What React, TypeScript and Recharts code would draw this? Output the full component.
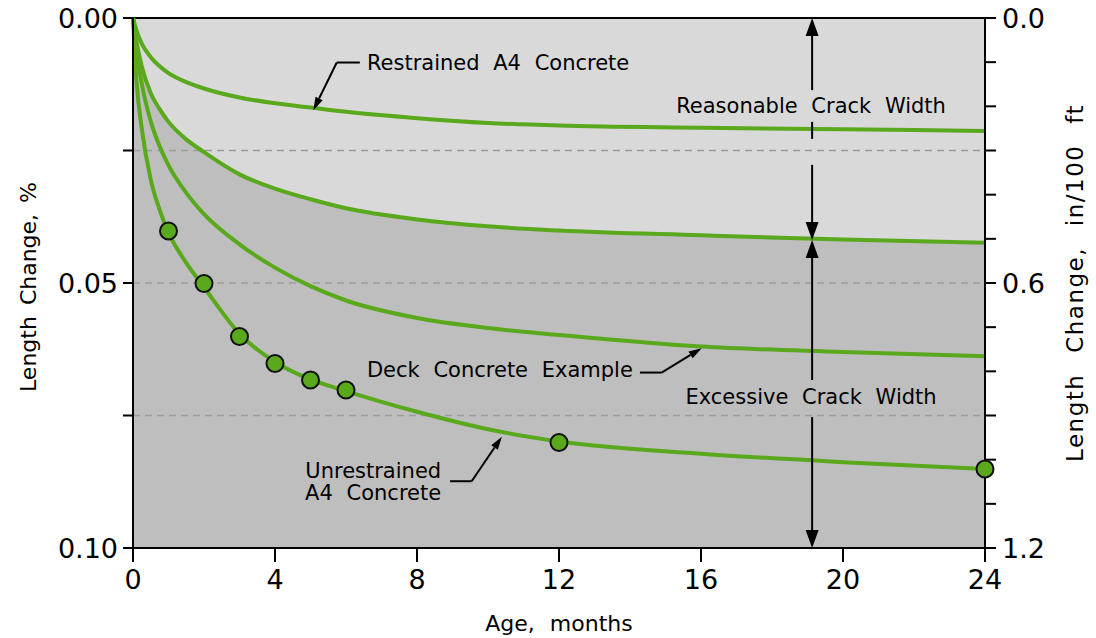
import React from 'react';
import {
  ComposedChart, XAxis, YAxis, Line, Area, Scatter,
  ReferenceArea, ReferenceLine, ReferenceDot,
} from 'recharts';

// age in months and length change in %
const months = [0, 0.1, 0.25, 0.5, 0.75, 1, 1.5, 2, 3, 4, 5, 6, 8, 10, 12, 16, 20, 24];
const restrained = [0, 0.0024, 0.0049, 0.0074, 0.0091, 0.0104, 0.0121, 0.0133, 0.015, 0.0161, 0.0169, 0.0177, 0.0189, 0.0198, 0.0203, 0.0207, 0.021, 0.0213];
const crackLimit = [0, 0.0045, 0.0092, 0.0142, 0.0172, 0.0196, 0.0229, 0.0253, 0.0295, 0.0322, 0.0342, 0.0359, 0.038, 0.0393, 0.0401, 0.041, 0.0418, 0.0424];
const deck = [0, 0.006, 0.0125, 0.0195, 0.0242, 0.0278, 0.033, 0.037, 0.0427, 0.0471, 0.0506, 0.0533, 0.0566, 0.0585, 0.0598, 0.062, 0.063, 0.0638];
const unrestrained = [0, 0.012, 0.021, 0.0305, 0.0362, 0.0405, 0.0462, 0.0508, 0.0596, 0.0649, 0.0682, 0.0704, 0.0743, 0.0776, 0.0799, 0.0822, 0.0838, 0.0851];

// measured points on the unrestrained curve
const testMonths = [1, 2, 3, 4, 5, 6, 12, 24];
const testValues = [0.0402, 0.0501, 0.0601, 0.0652, 0.0683, 0.0702, 0.0801, 0.0851];

const xTicks = [0, 4, 8, 12, 16, 20, 24];
const leftTicks = [0, 0.025, 0.05, 0.075, 0.1];
const leftLabels = ['0.00', '', '0.05', '', '0.10'];
const rightTicks = [0, 0.1, 0.2, 0.3, 0.4, 0.5, 0.6, 0.7, 0.8, 0.9, 1.0, 1.1, 1.2];
const rightLabelled = [0, 0.6, 1.2];
const dashedLevels = [0.025, 0.05, 0.075];
// 0.1 % of 100 ft = 1.2 in
const IN_PER_PCT = 12;

type Pt = [number, number];
// leader lines: [text end, bend, arrow tip] in (months, %)
const leaderRestrained: Pt[] = [[6.39, 0.0084], [5.74, 0.0084], [5.08, 0.0174]];
const leaderDeck: Pt[] = [[14.28, 0.0669], [14.89, 0.0669], [16.02, 0.0623]];
const leaderUnrestrained: Pt[] = [[8.93, 0.0874], [9.54, 0.0874], [10.39, 0.079]];

const crackMonth = 19.13;
// vertical dimension arrow pieces: [from %, to %, arrow head]
const crackPieces: [number, number, 'start' | 'end' | 'none'][] = [
  [0, 0.0136, 'start'],
  [0.0196, 0.0228, 'none'],
  [0.0277, 0.0419, 'end'],
  [0.0419, 0.0683, 'start'],
  [0.0753, 0.1, 'end'],
];

const notes: { x: number; y: number; text: string; anchor: 'start' | 'middle' | 'end' }[] = [
  { x: 6.59, y: 0.0085, text: 'Restrained A4 Concrete', anchor: 'start' },
  { x: 19.1, y: 0.0166, text: 'Reasonable Crack Width', anchor: 'middle' },
  { x: 14.08, y: 0.0664, text: 'Deck Concrete Example', anchor: 'end' },
  { x: 19.1, y: 0.0715, text: 'Excessive Crack Width', anchor: 'middle' },
  { x: 8.68, y: 0.0855, text: 'Unrestrained', anchor: 'end' },
  { x: 8.68, y: 0.0897, text: 'A4 Concrete', anchor: 'end' },
];

const data = months.map((m, i) => ({
  m,
  restrained: restrained[i],
  crackLimit: crackLimit[i],
  deck: deck[i],
  unrestrained: unrestrained[i],
  unrestrainedIn: unrestrained[i] * IN_PER_PCT,
}));
const tests = testMonths.map((m, i) => ({ m, v: testValues[i] }));

const GREEN = '#5aa81c';
const FONT = '"DejaVu Sans", sans-serif';
const LIGHT = '#d9d9d9';
const DARK = '#bebebe';

const arrowShape = (head: 'start' | 'end' | 'none', len = 16, half = 6) => (p: any) => {
  const { x1, y1, x2, y2 } = p;
  if (head === 'none') {
    return <line x1={x1} y1={y1} x2={x2} y2={y2} stroke="#000" strokeWidth={2} />;
  }
  const tx = head === 'end' ? x2 : x1;
  const ty = head === 'end' ? y2 : y1;
  const ox = head === 'end' ? x1 : x2;
  const oy = head === 'end' ? y1 : y2;
  const L = Math.hypot(tx - ox, ty - oy) || 1;
  const ux = (tx - ox) / L;
  const uy = (ty - oy) / L;
  const bx = tx - ux * len;
  const by = ty - uy * len;
  const pts = `${tx},${ty} ${bx - uy * half},${by + ux * half} ${bx + uy * half},${by - ux * half}`;
  return (
    <g>
      <line x1={ox} y1={oy} x2={bx} y2={by} stroke="#000" strokeWidth={2} />
      <polygon points={pts} fill="#000" />
    </g>
  );
};

const leader = (pts: Pt[], key: string) => [
  <ReferenceLine key={key + 'a'} yAxisId="left" ifOverflow="visible"
    segment={[{ x: pts[0][0], y: pts[0][1] }, { x: pts[1][0], y: pts[1][1] }]}
    shape={arrowShape('none')} />,
  <ReferenceLine key={key + 'b'} yAxisId="left" ifOverflow="visible"
    segment={[{ x: pts[1][0], y: pts[1][1] }, { x: pts[2][0], y: pts[2][1] }]}
    shape={arrowShape('end', 13, 4)} />,
];

const tickStyle = { fill: '#000', fontSize: 27, fontFamily: FONT };
const axisStroke = { stroke: '#000', strokeWidth: 2 };

export default function App() {
  return (
    <div style={{ position: 'absolute', left: 0, top: 0, width: 1096, height: 638, fontFamily: FONT }}>
      <ComposedChart width={1096} height={638} data={data}
        margin={{ top: 18, right: 31, bottom: 40, left: 38 }}>
        <XAxis dataKey="m" type="number" domain={[0, 24]} ticks={xTicks} interval={0}
          height={50} tickSize={14} tickMargin={8}
          axisLine={axisStroke} tickLine={axisStroke} tick={tickStyle} />
        <YAxis yAxisId="left" type="number" domain={[0, 0.1]} reversed interval={0}
          ticks={leftTicks} width={95} tickSize={10} tickMargin={5}
          tickFormatter={(v: number) => leftLabels[leftTicks.indexOf(v)] ?? ''}
          axisLine={axisStroke} tickLine={axisStroke} tick={tickStyle} />
        <YAxis yAxisId="right" orientation="right" type="number" domain={[0, 1.2]}
          allowDataOverflow reversed interval={0} ticks={rightTicks} width={80}
          tickSize={11} tickMargin={6}
          tickFormatter={(v: number) => (rightLabelled.some((r) => Math.abs(r - v) < 1e-6) ? v.toFixed(1) : '')}
          axisLine={axisStroke} tickLine={axisStroke} tick={tickStyle} />

        <ReferenceArea yAxisId="left" x1={0} x2={24} y1={0} y2={0.1}
          fill={DARK} fillOpacity={1} stroke="none" />
        <Area yAxisId="left" dataKey="crackLimit" type="monotone" stroke="none"
          fill={LIGHT} fillOpacity={1} isAnimationActive={false} />

        {dashedLevels.map((v) => (
          <ReferenceLine key={v} yAxisId="left" y={v} stroke="#9c9c9c"
            strokeWidth={1.5} strokeDasharray="7 5" />
        ))}
        <ReferenceLine yAxisId="left" y={0} stroke="#000" strokeWidth={2} />

        {/* same curve in in/100 ft, only to carry the right axis */}
        <Line yAxisId="right" dataKey="unrestrainedIn" type="monotone" stroke="none"
          dot={false} activeDot={false} isAnimationActive={false} />
        <Line yAxisId="left" dataKey="restrained" type="monotone" stroke={GREEN}
          strokeWidth={4} dot={false} isAnimationActive={false} />
        <Line yAxisId="left" dataKey="crackLimit" type="monotone" stroke={GREEN}
          strokeWidth={4} dot={false} isAnimationActive={false} />
        <Line yAxisId="left" dataKey="deck" type="monotone" stroke={GREEN}
          strokeWidth={4} dot={false} isAnimationActive={false} />
        <Line yAxisId="left" dataKey="unrestrained" type="monotone" stroke={GREEN}
          strokeWidth={4} dot={false} isAnimationActive={false} />
        <Scatter yAxisId="left" data={tests} dataKey="v" isAnimationActive={false}
          shape={(p: any) => (
            <circle cx={p.cx} cy={p.cy} r={8.5} fill={GREEN} stroke="#111" strokeWidth={2} />
          )} />

        {crackPieces.map(([a, b, head], i) => (
          <ReferenceLine key={'c' + i} yAxisId="left" ifOverflow="visible"
            segment={[{ x: crackMonth, y: a }, { x: crackMonth, y: b }]}
            shape={arrowShape(head, 18, 6.5)} />
        ))}
        {leader(leaderRestrained, 'lr')}
        {leader(leaderDeck, 'ld')}
        {leader(leaderUnrestrained, 'lu')}

        {notes.map((n, i) => (
          <ReferenceDot key={'n' + i} yAxisId="left" x={n.x} y={n.y} r={0}
            ifOverflow="visible"
            shape={(p: any) => (
              <text x={p.cx} y={p.cy} textAnchor={n.anchor} dominantBaseline="central"
                fontSize={21} fontFamily={FONT} fill="#000" wordSpacing={7}>
                {n.text}
              </text>
            )} />
        ))}

        <text x={559} y={631} textAnchor="middle" fontSize={22} fontFamily={FONT}
          fill="#000" wordSpacing={8}>Age, months</text>
        <text x={0} y={0} transform="translate(28,287) rotate(-90)" textAnchor="middle"
          dominantBaseline="central" fontSize={22} fontFamily={FONT} fill="#000"
          wordSpacing={4}>Length Change, %</text>
        <text x={0} y={0} transform="translate(1075,283) rotate(-90)" textAnchor="middle"
          dominantBaseline="central" fontSize={23} fontFamily={FONT} fill="#000"
          wordSpacing={12} letterSpacing={1.5}>Length Change, in/100 ft</text>
      </ComposedChart>
    </div>
  );
}
